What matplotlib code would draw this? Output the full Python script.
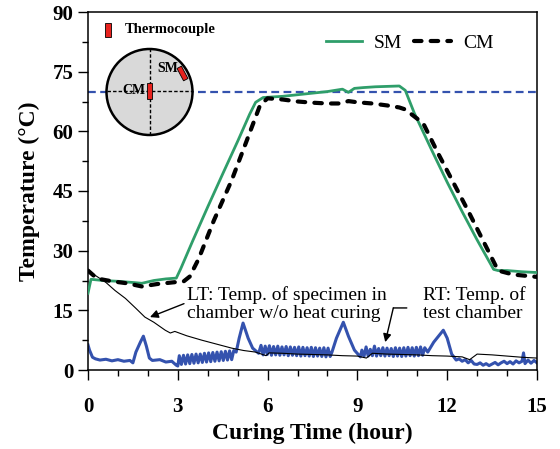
import matplotlib
matplotlib.use("Agg")
import matplotlib.pyplot as plt
from matplotlib.patches import Circle, Rectangle
from matplotlib.lines import Line2D

plt.rcParams['font.family'] = ['Liberation Serif', 'DejaVu Serif']

# ---------------- data ----------------
sm_time = [0, 0.1, 0.5, 1.0, 1.5, 1.8, 2.2, 2.6, 2.95, 3.1, 3.5, 4.0, 4.5, 5.0, 5.4, 5.6, 5.85,
           6.5, 7.0, 7.5, 8.0, 8.5, 8.7, 8.9, 9.2, 9.6, 10.0, 10.4, 10.6, 10.9, 11.5, 12.0,
           12.5, 13.0, 13.55, 13.7, 14.0, 14.5, 15.0]
sm_temp = [19.3, 22.8, 22.5, 22.3, 22.0, 21.8, 22.5, 22.9, 23.1, 25.5, 32.5, 41.0, 49.3, 57.5,
           64.3, 67.3, 68.5, 68.8, 69.2, 69.6, 70.0, 70.6, 69.8, 70.8, 71.0, 71.2, 71.3, 71.4,
           70.3, 64.6, 55.0, 47.2, 39.8, 32.7, 25.3, 25.0, 25.0, 24.7, 24.5]

cm_time = [0, 0.3, 0.8, 1.3, 1.8, 2.3, 2.8, 3.2, 3.4, 3.7, 4.2, 4.8, 5.3, 5.75, 6.0, 6.5, 7.0,
           7.5, 8.0, 8.4, 8.7, 9.0, 9.5, 10.0, 10.4, 10.6, 11.2, 11.7, 12.2, 12.7, 13.2, 13.7,
           14.2, 15.0]
cm_temp = [25.0, 23.0, 22.3, 21.8, 21.0, 21.6, 22.0, 22.3, 23.5, 28.0, 37.5, 47.7, 57.6, 66.6,
           68.3, 68.0, 67.5, 67.2, 67.0, 67.0, 67.6, 67.3, 67.0, 66.5, 66.0, 65.5, 62.0, 54.4,
           47.2, 40.0, 32.5, 25.0, 24.0, 23.4]

lt_time = [0, 0.3, 0.6, 0.9, 1.25, 1.6, 1.9, 2.2, 2.58, 2.75, 2.9, 3.3, 3.8, 4.3, 4.8, 5.2, 5.6,
           5.95, 6.05, 6.5, 7.0, 7.5, 8.0, 8.5, 9.0, 9.3, 9.5, 10.0, 10.5, 11.0, 11.5, 12.0,
           12.5, 12.75, 13.0, 13.5, 14.0, 14.5, 15.0]
lt_temp = [25.0, 23.5, 22.0, 20.0, 18.0, 15.5, 13.3, 12.0, 10.0, 9.3, 9.7, 8.6, 7.5, 6.5, 5.5,
           4.9, 4.5, 3.6, 4.3, 4.2, 4.0, 3.9, 3.8, 3.6, 3.5, 3.0, 4.2, 4.0, 3.9, 3.8, 3.6, 3.5,
           3.3, 2.6, 4.0, 3.8, 3.5, 3.2, 3.0]

rt_time = ([0, 0.05, 0.15, 0.25, 0.4, 0.6, 0.8, 1.0, 1.2, 1.4, 1.5, 1.6, 1.75, 1.85, 1.95, 2.05,
            2.15, 2.4, 2.6, 2.8, 2.95, 3.0]
           + [3.05, 3.12, 3.19, 3.26, 3.33, 3.40, 3.47, 3.54, 3.61, 3.68, 3.75, 3.82, 3.89, 3.96,
              4.03, 4.10, 4.17, 4.24, 4.31, 4.38, 4.45, 4.52, 4.59, 4.66, 4.73, 4.80, 4.87]
           + [4.95, 5.05, 5.18, 5.35, 5.5, 5.7]
           + [5.78, 5.85, 5.92, 5.99, 6.06, 6.13, 6.20, 6.27, 6.34, 6.41, 6.48, 6.55, 6.62, 6.69,
              6.76, 6.83, 6.90, 6.97, 7.04, 7.11, 7.18, 7.25, 7.32, 7.39, 7.46, 7.53, 7.60, 7.67,
              7.74, 7.81, 7.88, 7.95, 8.02, 8.09]
           + [8.15, 8.3, 8.53, 8.7, 8.9, 9.1]
           + [9.15, 9.22, 9.29, 9.36, 9.43, 9.50, 9.57, 9.64, 9.71, 9.78, 9.85, 9.92, 9.99, 10.06,
              10.13, 10.20, 10.27, 10.34, 10.41, 10.48, 10.55, 10.62, 10.69, 10.76, 10.83, 10.90,
              10.97, 11.04, 11.11, 11.18, 11.25]
           + [11.35, 11.55, 11.87, 12.0, 12.15, 12.3]
           + [12.4, 12.5, 12.6, 12.7, 12.8, 12.9, 13.0, 13.1, 13.2, 13.3, 13.4, 13.5, 13.6, 13.7,
              13.8, 13.9, 14.0, 14.1, 14.2, 14.3, 14.4, 14.5, 14.55, 14.6, 14.7, 14.8, 14.9, 15.0])
rt_temp = ([6.3, 5.0, 3.2, 2.8, 2.5, 2.7, 2.3, 2.6, 2.2, 2.4, 1.8, 4.5, 7.0, 8.5, 6.0, 3.0,
            2.4, 2.6, 2.0, 2.2, 1.2, 1.0]
           + [3.6, 1.4, 3.7, 1.5, 3.8, 1.6, 3.9, 1.7, 4.0, 1.8, 4.0, 1.9, 4.2, 2.0, 4.3, 2.1,
              4.4, 2.2, 4.5, 2.3, 4.6, 2.4, 4.7, 2.5, 4.8, 2.6, 4.9]
           + [4.5, 8.0, 11.8, 8.0, 5.5, 4.2]
           + [6.2, 3.8, 6.0, 3.9, 6.1, 3.7, 5.9, 3.8, 6.0, 3.7, 5.8, 3.8, 5.9, 3.6, 5.8, 3.7,
              5.7, 3.6, 5.8, 3.5, 5.7, 3.6, 5.6, 3.5, 5.7, 3.4, 5.6, 3.5, 5.5, 3.4, 5.6, 3.3,
              5.5, 3.4]
           + [4.5, 8.0, 12.0, 8.5, 5.0, 3.3]
           + [5.0, 3.4, 5.8, 3.5, 5.2, 3.6, 6.0, 3.5, 5.4, 3.6, 5.6, 3.5, 5.5, 3.6, 5.4, 3.4,
              5.6, 3.5, 5.5, 3.4, 5.6, 3.5, 5.7, 3.6, 5.6, 3.5, 5.7, 3.6, 5.8, 3.7, 5.6]
           + [4.5, 7.0, 10.0, 8.0, 4.0, 2.5]
           + [2.8, 2.2, 2.6, 1.8, 2.4, 1.5, 1.4, 1.8, 1.2, 1.6, 1.1, 1.5, 1.9, 1.3, 1.8, 2.2,
              1.6, 2.1, 1.5, 2.3, 1.8, 2.2, 4.3, 1.6, 2.5, 1.7, 2.4, 1.8])

target_temp = 70
x_ticks = [0, 3, 6, 9, 12, 15]
y_ticks = [0, 15, 30, 45, 60, 75, 90]

GREEN = '#2f9e6a'
BLUE = '#3452ae'

# ---------------- figure ----------------
W, H = 560, 449
fig = plt.figure(figsize=(W / 100, H / 100), dpi=100)
ax = fig.add_axes([88 / W, 1 - 370 / H, (537 - 88) / W, (370 - 12) / H])

ax.plot(rt_time, rt_temp, color=BLUE, lw=2.2, zorder=2)
ax.plot(lt_time, lt_temp, color='black', lw=0.8, zorder=3)
ax.axhline(target_temp, color=BLUE, lw=1.6, dashes=(3.5, 2), zorder=2)
ax.plot(sm_time, sm_temp, color=GREEN, lw=2.0, zorder=4)
ax.plot(cm_time, cm_temp, color='black', lw=3.0, dashes=(1.8, 2.2),
        dash_capstyle='round', zorder=5)

ax.set_xlim(0, 15)
ax.set_ylim(0, 90)
ax.set_xticks(x_ticks)
ax.set_yticks(y_ticks)
ax.set_xticks([t for t in range(16)], minor=True)
ax.set_yticks([v * 7.5 for v in range(13)], minor=True)
ax.tick_params(which='major', direction='out', length=7.5, width=1.0, labelsize=15, pad=3)
ax.tick_params(axis='x', which='major', pad=12)
ax.tick_params(which='minor', direction='out', length=4.5, width=1.0)
for lab in ax.get_xticklabels() + ax.get_yticklabels():
    lab.set_fontweight('bold')
for s in ax.spines.values():
    s.set_linewidth(1.1)

ax.set_xlabel('Curing Time (hour)', fontsize=17, fontweight='bold', labelpad=4)
ax.set_ylabel('Temperature (°C)', fontsize=17, fontweight='bold', labelpad=9)

# legend
handles = [Line2D([], [], color=GREEN, lw=2.0),
           Line2D([], [], color='black', lw=3.0, dashes=(1.8, 2.2), dash_capstyle='round')]
ax.legend(handles, ['SM', 'CM'], loc='center left', bbox_to_anchor=(0.49, 0.913),
          ncol=2, frameon=False, fontsize=14, handlelength=1.9, columnspacing=0.6,
          handletextpad=0.6)

# annotations
ax.annotate('LT: Temp. of specimen in\nchamber w/o heat curing', xy=(2.07, 13.3),
            xytext=(3.3, 16.5), fontsize=14, ha='left', va='center', linespacing=1.1,
            arrowprops=dict(arrowstyle='-|>', color='black', lw=1.0, mutation_scale=12,
                            shrinkA=0, shrinkB=0, relpos=(0.0, 0.55)))
ax.text(11.2, 16.5, 'RT: Temp. of\ntest chamber', fontsize=14, ha='left', va='center',
        linespacing=1.1)
ax.annotate('', xy=(9.93, 7.0), xytext=(10.2, 15.6),
            arrowprops=dict(arrowstyle='-|>', color='black', lw=1.0, mutation_scale=12,
                            shrinkA=0, shrinkB=0))
ax.annotate('', xy=(10.2, 15.6), xytext=(10.65, 15.6),
            arrowprops=dict(arrowstyle='-', color='black', lw=1.0, shrinkA=0, shrinkB=0))

# inset sketch (pixel units, centered on circle)
cx, cy, half = 149.5, 92, 75
ins = fig.add_axes([(cx - half) / W, 1 - (cy + half) / H, 2 * half / W, 2 * half / H], zorder=10)
ins.set_xlim(-half, half)
ins.set_ylim(-half, half)
ins.axis('off')
ins.patch.set_alpha(0)
R = 43
ins.add_patch(Circle((0, 0), R, facecolor='#d9d9d9', edgecolor='black', lw=1.8, zorder=1))
ins.plot([0, 0], [-R, R], color='black', lw=1.0, dashes=(2.5, 1.5), zorder=2)
ins.plot([-R, R], [1, 1], color='black', lw=1.0, dashes=(2.5, 1.5), zorder=2)
ins.add_patch(Rectangle((-2.5, -7), 5, 16, facecolor='#e8231f', edgecolor='black', lw=0.6,
                        zorder=4))
ins.add_patch(Rectangle((30.5, 11.5), 5, 14, angle=28, rotation_point='center',
                        facecolor='#e8231f', edgecolor='black', lw=0.6, zorder=4))
ins.text(-15.5, 1, 'CM', fontsize=10, fontweight='bold', ha='center', va='center', zorder=3)
ins.text(18.5, 23, 'SM', fontsize=10, fontweight='bold', ha='center', va='center', zorder=3)
ins.add_patch(Rectangle((-44.5, 55), 6, 14, facecolor='#e8231f', edgecolor='black', lw=0.6,
                        clip_on=False))
ins.text(-24.5, 62, 'Thermocouple', fontsize=10.5, fontweight='bold', ha='left', va='center',
         clip_on=False)

fig.savefig('out.png', dpi=100)
